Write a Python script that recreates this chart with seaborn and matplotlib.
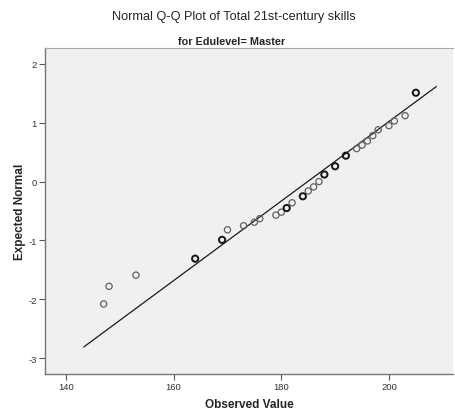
import matplotlib
matplotlib.use("Agg")
import matplotlib.pyplot as plt
import seaborn as sns
import pandas as pd
import numpy as np

# Observed scores, the expected normal value of each, and how many cases share the score
observed = [147, 148, 153, 164, 169, 170, 173, 175, 176, 179, 180, 181, 182,
            184, 185, 186, 187, 188, 190, 192, 194, 195, 196, 197, 198, 200,
            201, 203, 205]
expected = [-2.08, -1.78, -1.59, -1.31, -0.99, -0.82, -0.75, -0.69, -0.63, -0.57,
            -0.52, -0.45, -0.36, -0.25, -0.16, -0.09, 0.00, 0.12, 0.26, 0.44,
            0.56, 0.62, 0.69, 0.78, 0.88, 0.95, 1.03, 1.12, 1.51]
ties = [1, 1, 1, 2, 2, 1, 1, 1, 1, 1, 1, 2, 1,
        2, 1, 1, 1, 2, 2, 2, 1, 1, 1, 1, 1, 1,
        1, 1, 2]

# Reference line of the fitted normal distribution
dist_mean = 184.9
dist_sd = 14.8
line_range = [143.3, 208.8]

x_ticks = [140, 160, 180, 200]
y_ticks = [-3, -2, -1, 0, 1, 2]

sns.set_theme(style="white")
plt.rcParams["font.family"] = ["Liberation Sans Narrow", "Liberation Sans", "DejaVu Sans"]

df = pd.DataFrame({"observed": observed, "expected": expected, "ties": ties})
line_df = pd.DataFrame({"x": line_range})
line_df["y"] = (line_df["x"] - dist_mean) / dist_sd

fig = plt.figure(figsize=(4.55, 4.14), dpi=100)
fig.patch.set_facecolor("white")
ax = fig.add_axes([45 / 455, 39 / 414, 408 / 455, 326 / 414])
ax.set_facecolor("#f0f0f0")

sns.lineplot(data=line_df, x="x", y="y", ax=ax, color="#1a1a1a", linewidth=0.9,
             zorder=2)

single = df[df["ties"] == 1]
multi = df[df["ties"] > 1]
sns.scatterplot(data=single, x="observed", y="expected", ax=ax, marker="o", s=20,
                facecolor="none", edgecolor="#606060", linewidth=0.9, zorder=3)
sns.scatterplot(data=multi, x="observed", y="expected", ax=ax, marker="o", s=20,
                facecolor="none", edgecolor="#151515", linewidth=1.4, zorder=3)

ax.set_xlim(136.1, 211.9)
ax.set_ylim(-3.27, 2.27)
ax.set_xticks(x_ticks)
ax.set_yticks(y_ticks)
ax.set_xticklabels([str(v) for v in x_ticks])
ax.set_yticklabels([str(v) for v in y_ticks])
ax.tick_params(axis="both", which="major", direction="out", length=4, width=0.8,
               color="#555555", labelsize=6.8, labelcolor="#333333", pad=2,
               bottom=True, left=True)

for side in ["left", "bottom"]:
    ax.spines[side].set_color("#777777")
    ax.spines[side].set_linewidth(1.0)
ax.spines["top"].set_color("#aaaaaa")
ax.spines["top"].set_linewidth(0.8)
ax.spines["right"].set_visible(False)

ax.set_xlabel("Observed Value", fontsize=8.5, fontweight="bold", va="center")
ax.set_ylabel("Expected Normal", fontsize=8.5, fontweight="bold", va="center")
ax.xaxis.set_label_coords(0.5, -30 / 326)
ax.yaxis.set_label_coords(-25 / 408, 0.5)

fig.text(234 / 455, 1 - 17 / 414, "Normal Q-Q Plot of Total 21st-century skills",
         ha="center", va="center", fontsize=9.2)
fig.text(231.5 / 455, 1 - 42 / 414, "for Edulevel= Master", ha="center", va="center",
         fontsize=7.8, fontweight="bold")

fig.savefig("out.png", dpi=100)
